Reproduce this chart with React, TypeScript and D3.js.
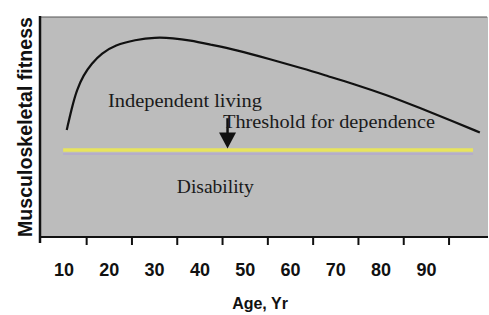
import React, { useEffect, useRef } from 'react';
import * as d3 from 'd3';

// fitness curve (age in years, fitness on a 0-100 scale)
const ages = [10.6, 11.7, 12.8, 14.3, 16.1, 18.3, 21.3, 25.7, 30.1, 34.1, 37.8, 42.2, 48.1, 55.5, 62.8, 68.3, 73.9, 81.2, 88.6, 95.9, 101.8];
const fitness = [48.6, 58.5, 66.8, 73.6, 78.9, 83.5, 87.3, 89.6, 90.8, 90.4, 89.4, 87.5, 85.0, 80.8, 76.6, 73.1, 69.6, 64.6, 58.6, 52.6, 47.5];

const tickLabels = [10, 20, 30, 40, 50, 60, 70, 80, 90];
const tickMarks = [15, 25, 35, 45, 55, 65, 75, 85, 95];

const thresholdLevel = 39.5;
const thresholdSpan = [9.8, 100.3];
const arrowAge = 46.1;
const arrowFrom = 54;
const arrowHeadStart = 47.5;

const notes = [
    { text: 'Independent living', age: 19.7, level: 59.1, len: 154 },
    { text: 'Threshold for dependence', age: 45.1, level: 49.4, len: 212 },
    { text: 'Disability', age: 34.9, level: 20.1, len: 77 },
];

const App: React.FC = () => {
    const svgRef = useRef<SVGSVGElement | null>(null);

    useEffect(() => {
        if (!svgRef.current) return;
        d3.select(svgRef.current).selectAll('*').remove();

        const width = 489;
        const height = 315;
        const margin = { top: 17, right: 1, bottom: 78, left: 40 };

        const svg = d3.select(svgRef.current)
            .attr('width', width)
            .attr('height', height);

        const x = d3.scaleLinear().domain([4.7, 103.6]).range([margin.left, width - margin.right]);
        const y = d3.scaleLinear().domain([0, 100]).range([height - margin.bottom, margin.top]);

        // plot background
        svg.append('rect')
            .attr('x', x(4.7))
            .attr('y', y(100))
            .attr('width', x(103.6) - x(4.7))
            .attr('height', y(0) - y(100))
            .attr('fill', '#bcbcbc');

        // top frame line
        svg.append('line')
            .attr('x1', x(4.7)).attr('x2', x(103.4))
            .attr('y1', y(100)).attr('y2', y(100))
            .attr('stroke', '#555').attr('stroke-width', 1.2);

        // threshold line (yellow with faint lavender shadow)
        svg.append('line')
            .attr('x1', x(thresholdSpan[0])).attr('x2', x(thresholdSpan[1]))
            .attr('y1', y(thresholdLevel) + 4).attr('y2', y(thresholdLevel) + 4)
            .attr('stroke', '#b3a9cf').attr('stroke-width', 1.5);
        svg.append('line')
            .attr('x1', x(thresholdSpan[0])).attr('x2', x(thresholdSpan[1]))
            .attr('y1', y(thresholdLevel)).attr('y2', y(thresholdLevel))
            .attr('stroke', '#e8e45c').attr('stroke-width', 3.5);

        // fitness curve
        const line = d3.line<number>()
            .x((_, i) => x(ages[i]))
            .y(d => y(d))
            .curve(d3.curveBasis);
        svg.append('path')
            .datum(fitness)
            .attr('d', line)
            .attr('fill', 'none')
            .attr('stroke', '#111')
            .attr('stroke-width', 2.2);

        // arrow
        const ax = x(arrowAge);
        svg.append('line')
            .attr('x1', ax).attr('x2', ax)
            .attr('y1', y(arrowFrom)).attr('y2', y(arrowHeadStart) + 2)
            .attr('stroke', '#111').attr('stroke-width', 2.5);
        svg.append('path')
            .attr('d', `M${ax - 8.5},${y(arrowHeadStart)} L${ax + 8.5},${y(arrowHeadStart)} L${ax},${y(thresholdLevel) - 1.5} Z`)
            .attr('fill', '#111');

        // annotations
        notes.forEach(n => {
            svg.append('text')
                .attr('x', x(n.age))
                .attr('y', y(n.level))
                .attr('textLength', n.len)
                .attr('lengthAdjust', 'spacingAndGlyphs')
                .style('font-family', '"Liberation Serif", "Times New Roman", serif')
                .style('font-size', '18px')
                .attr('fill', '#1a1a1a')
                .text(n.text);
        });

        // bottom axis: ticks between labels
        svg.append('line')
            .attr('x1', x(4.7)).attr('x2', x(103.6))
            .attr('y1', y(0)).attr('y2', y(0))
            .attr('stroke', '#111').attr('stroke-width', 2.2);
        svg.selectAll('.tick-mark')
            .data(tickMarks)
            .enter().append('line')
            .attr('class', 'tick-mark')
            .attr('x1', d => x(d)).attr('x2', d => x(d))
            .attr('y1', y(0)).attr('y2', y(0) + 8)
            .attr('stroke', '#111').attr('stroke-width', 2);
        svg.selectAll('.tick-label')
            .data(tickLabels)
            .enter().append('text')
            .attr('class', 'tick-label')
            .attr('x', d => x(d))
            .attr('y', y(0) + 39)
            .attr('text-anchor', 'middle')
            .style('font-family', '"Liberation Sans", Arial, sans-serif')
            .style('font-size', '18px')
            .style('font-weight', 'bold')
            .attr('fill', '#111')
            .text(d => d);

        // left axis
        svg.append('line')
            .attr('x1', x(4.7)).attr('x2', x(4.7))
            .attr('y1', y(100) - 1).attr('y2', y(0) + 6)
            .attr('stroke', '#111').attr('stroke-width', 2.5);

        // axis titles
        svg.append('text')
            .attr('x', 260)
            .attr('y', 309)
            .attr('text-anchor', 'middle')
            .style('font-family', '"Liberation Sans", Arial, sans-serif')
            .style('font-size', '16px')
            .style('font-weight', 'bold')
            .attr('fill', '#111')
            .text('Age, Yr');

        svg.append('text')
            .attr('transform', `translate(32,${(y(100) + y(0)) / 2}) rotate(-90)`)
            .attr('text-anchor', 'middle')
            .attr('textLength', 220)
            .attr('lengthAdjust', 'spacingAndGlyphs')
            .style('font-family', '"Liberation Sans", Arial, sans-serif')
            .style('font-size', '20px')
            .style('font-weight', 'bold')
            .attr('fill', '#111')
            .text('Musculoskeletal fitness');
    }, []);

    return (
        <svg ref={svgRef} style={{ position: 'fixed', left: 0, top: 0, background: '#fff' }}></svg>
    );
};

export default App;
